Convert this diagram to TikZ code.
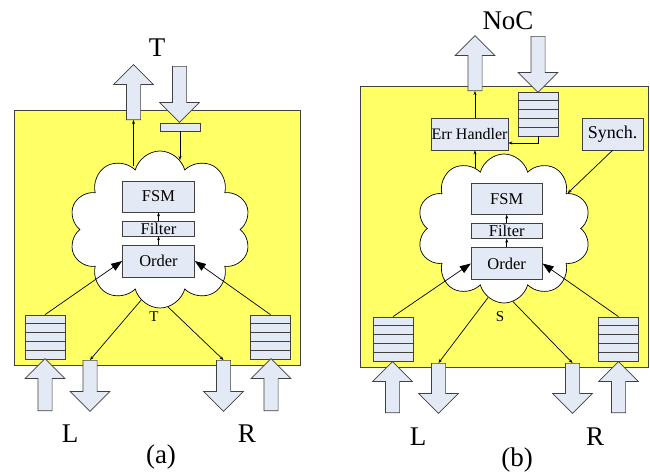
\documentclass[tikz,border=0pt]{standalone}
\usepackage{fontspec}
\setmainfont{Liberation Serif}
\usetikzlibrary{positioning,shapes.symbols,shapes.arrows,arrows.meta}

\definecolor{padyellow}{HTML}{FFFF66}
\definecolor{boxblue}{HTML}{E4EAF5}
\definecolor{edgegray}{HTML}{404040}

\tikzset{
  stage/.style={draw=edgegray, fill=boxblue, inner sep=0pt, font=\fontsize{16.5}{18}\selectfont},
  fifo/.style={draw=edgegray, fill=boxblue, minimum width=40pt, minimum height=44pt, inner sep=0pt,
    path picture={\foreach \k in {1,...,4}
      \draw[edgegray] ([yshift={-8.8pt*\k}]path picture bounding box.north west)
        -- ([yshift={-8.8pt*\k}]path picture bounding box.north east);}},
  fat/.style={single arrow, draw=edgegray, fill=boxblue, inner xsep=0pt, inner ysep=6.75pt,
    single arrow head extend=12.75pt, minimum height=#1, anchor=tail},
  blob/.style={cloud, cloud puffs=10, cloud puff arc=150, cloud ignores aspect, draw, fill=white, inner sep=0pt},
  wire/.style={-{Stealth[length=4pt,width=3pt]}},
  feed/.style={-{Triangle[length=11pt,width=8pt]}},
  biglabel/.style={font=\fontsize{27}{30}\selectfont},
  minor/.style={font=\fontsize{15}{16}\selectfont}
}

\begin{document}
\begin{tikzpicture}[x=1pt,y=-1pt,line width=0.7pt]
  \useasboundingbox (0,0) rectangle (650,474);

  % Panel (a)
  \filldraw[fill=padyellow, draw=edgegray] (14,110) rectangle (300,365);
  \node[blob, minimum width=182pt, minimum height=157pt] (clouda) at (160,229.5) {};
  \node[stage, minimum width=72pt, minimum height=31pt] (fsma) at (158.5,196.5) {FSM};
  \node[stage, minimum width=72pt, minimum height=15pt] (filta) at (158.5,228.5) {Filter};
  \node[stage, minimum width=72pt, minimum height=32pt] (orda) at (158.5,261) {Order};
  \draw[wire] (orda) -- (filta);
  \draw[wire] (filta) -- (fsma);

  % top port of (a)
  \node[fat=55pt, rotate=90] (outa) at (133.5,120) {};
  \node[fat=56pt, rotate=-90] (ina) at (179.5,66) {};
  \node[stage, minimum width=40pt, minimum height=8pt] (slota) at (180,127) {};
  \draw[wire] (clouda.115 -| outa.tail) -- (outa.tail);
  \draw[wire] (slota) -- (slota.south |- clouda.74);
  \node[biglabel] (topa) at (157,48) {T};

  % side ports of (a)
  \node[fifo] (lbufa) at (45,337) {};
  \node[fifo] (rbufa) at (270.5,337) {};
  \draw[feed] (lbufa.north) -- (orda.west);
  \draw[feed] (rbufa.north) -- (orda.east);
  \node[fat=52pt, rotate=90] (lina) at (45,411) {};
  \node[fat=51pt, rotate=-90] (louta) at (90,360) {};
  \node[fat=51pt, rotate=-90] (routa) at (223.5,360) {};
  \node[fat=52pt, rotate=90] (rina) at (271,411) {};
  \draw[wire] (clouda.255) -- (louta.tail);
  \draw[wire] (clouda.276) -- (routa.tail);
  \node[minor] (taga) at (154,317) {T};
  \node[biglabel] (la) at (70,434) {L};
  \node[biglabel] (ra) at (247,434) {R};
  \node[biglabel] (capa) at (161,457) {(a)};

  % Panel (b)
  \filldraw[fill=padyellow, draw=edgegray] (360,86) rectangle (648.5,367);
  \node[blob, minimum width=174pt, minimum height=149pt] (cloudb) at (504,228.5) {};
  \node[stage, minimum width=71pt, minimum height=31pt] (fsmb) at (506.7,198.8) {FSM};
  \node[stage, minimum width=71pt, minimum height=14.6pt] (filtb) at (506.7,231) {Filter};
  \node[stage, minimum width=71pt, minimum height=31.6pt] (ordb) at (506.7,263.5) {Order};
  \draw[wire] (ordb) -- (filtb);
  \draw[wire] (filtb) -- (fsmb);

  % top port of (b)
  \node[fat=55pt, rotate=90] (outb) at (475,91) {};
  \node[fat=56pt, rotate=-90] (inb) at (538,36) {};
  \node[fifo] (tbufb) at (538,114) {};
  \node[stage, minimum width=77pt, minimum height=32pt, font=\fontsize{16}{18}\selectfont] (errb) at (469.5,134) {Err Handler};
  \node[stage, minimum width=61pt, minimum height=32pt, font=\fontsize{18}{20}\selectfont] (synb) at (612.5,134) {Synch.};
  \draw[wire] (errb.north -| outb.tail) -- (outb.tail);
  \draw[wire] (cloudb.114 -| outb.tail) -- (errb.south -| outb.tail);
  \draw[wire] (tbufb.south) |- ([yshift=-9pt]errb.east);
  \draw[wire] (synb.south) -- (cloudb.29);
  \node[biglabel] (topb) at (508,21) {NoC};

  % side ports of (b)
  \node[fifo] (lbufb) at (393,339) {};
  \node[fifo] (rbufb) at (618.5,339) {};
  \draw[feed] (lbufb.north) -- (ordb.west);
  \draw[feed] (rbufb.north) -- (ordb.east);
  \node[fat=51pt, rotate=90] (linb) at (392.5,413) {};
  \node[fat=50pt, rotate=-90] (loutb) at (438.5,363) {};
  \node[fat=50pt, rotate=-90] (routb) at (572.5,363) {};
  \node[fat=51pt, rotate=90] (rinb) at (618.5,413) {};
  \draw[wire] (cloudb.257) -- (loutb.tail);
  \draw[wire] (cloudb.277) -- (routb.tail);
  \node[minor] (tagb) at (500,317) {S};
  \node[biglabel] (lb) at (418,437) {L};
  \node[biglabel] (rb) at (595,437) {R};
  \node[biglabel] (capb) at (517,460) {(b)};
\end{tikzpicture}
\end{document}
